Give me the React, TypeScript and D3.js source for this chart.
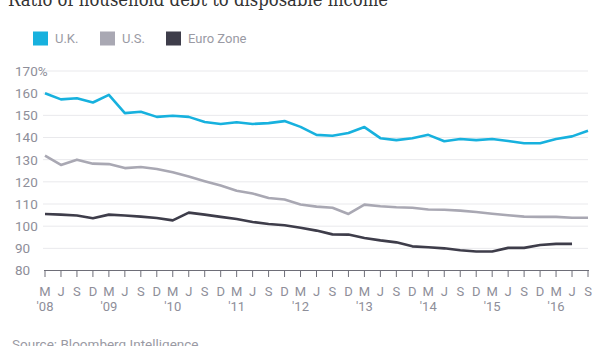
import React from "react";
import * as d3 from "d3";

const quarterLabels = [
  "M","J","S","D","M","J","S","D","M","J","S","D","M","J","S","D","M","J",
  "S","D","M","J","S","D","M","J","S","D","M","J","S","D","M","J","S",
];
const yearLabels = ["'08", "'09", "'10", "'11", "'12", "'13", "'14", "'15", "'16"];
const yTicks = [80, 90, 100, 110, 120, 130, 140, 150, 160, 170];

const ukValues = [
  160, 157.2, 157.7, 155.8, 159.2, 151, 151.6, 149.3, 149.8, 149.3, 147, 146.1,
  146.9, 146.1, 146.5, 147.4, 144.8, 141.2, 140.8, 142, 144.7, 139.7, 138.8, 139.7,
  141.2, 138.3, 139.3, 138.8, 139.3, 138.4, 137.4, 137.4, 139.3, 140.5, 143,
];
const usValues = [
  131.8, 127.6, 130, 128.2, 128, 126.2, 126.7, 125.8, 124.3, 122.4, 120.3, 118.3,
  116, 114.7, 112.7, 112, 109.8, 108.8, 108.3, 105.5, 109.7, 109, 108.5, 108.3,
  107.5, 107.4, 107, 106.4, 105.6, 104.9, 104.3, 104.2, 104.2, 103.8, 103.8,
];
const euroValues = [
  105.5, 105.2, 104.8, 103.6, 105.2, 104.8, 104.3, 103.7, 102.6, 106.1, 105.2, 104.2,
  103.2, 101.9, 101, 100.4, 99.3, 98, 96.3, 96.2, 94.7, 93.6, 92.7, 90.9,
  90.5, 90, 89.1, 88.6, 88.6, 90.2, 90.2, 91.5, 92, 92,
];

const seriesNames = ["U.K.", "U.S.", "Euro Zone"];
const seriesColors = ["#17b1de", "#a9a8b3", "#3e3d4a"];
const seriesData = [ukValues, usValues, euroValues];

const W = 616;
const H = 346;
const FONT = "Roboto, 'Noto Sans', sans-serif";

export default function App() {
  const x = d3.scaleLinear().domain([0, quarterLabels.length - 1]).range([45, 588]);
  const y = d3.scaleLinear().domain([80, 170]).range([270.5, 71]);
  const line = d3
    .line<number>()
    .x((_, i) => x(i))
    .y((d) => y(d))
    .curve(d3.curveLinear);

  const legendX = [33, 100, 166];

  return (
    <svg
      width={W}
      height={H}
      style={{ position: "absolute", left: 0, top: 0, background: "#fff" }}
    >
      <text
        x={8}
        y={6}
        fontFamily="'DejaVu Serif', serif"
        fontSize={18}
        fill="#333"
        textLength={380}
        lengthAdjust="spacingAndGlyphs"
      >
        Ratio of household debt to disposable income
      </text>

      {seriesNames.map((name, i) => (
        <g key={name}>
          <rect x={legendX[i]} y={31.5} width={15} height={14} fill={seriesColors[i]} />
          <text
            x={legendX[i] + 22}
            y={43}
            fontFamily={FONT}
            fontSize={13}
            fill="#9a9aa4"
          >
            {name}
          </text>
        </g>
      ))}

      {yTicks.map((t) => (
        <g key={t}>
          {t !== 80 && (
            <line x1={43} x2={588} y1={y(t)} y2={y(t)} stroke="#e9e9ec" strokeWidth={1} />
          )}
          <text
            x={15}
            y={y(t)}
            dy="0.36em"
            fontFamily={FONT}
            fontSize={13.5}
            fill="#8e8e99"
          >
            {t === 170 ? "170%" : t}
          </text>
        </g>
      ))}

      {seriesData.map((vals, i) => (
        <path
          key={i}
          d={line(vals) || ""}
          fill="none"
          stroke={seriesColors[i]}
          strokeWidth={2.6}
          strokeLinejoin="round"
        />
      ))}

      <line x1={44} x2={589} y1={270.5} y2={270.5} stroke="#6e6e78" strokeWidth={1} />
      {quarterLabels.map((q, i) => (
        <g key={i}>
          <line
            x1={x(i)}
            x2={x(i)}
            y1={270.5}
            y2={277}
            stroke="#6e6e78"
            strokeWidth={1}
          />
          <text
            x={x(i)}
            y={296}
            textAnchor="middle"
            fontFamily={FONT}
            fontSize={13}
            fill="#8e8e99"
          >
            {q}
          </text>
        </g>
      ))}
      {yearLabels.map((yl, k) => (
        <text
          key={yl}
          x={x(k * 4)}
          y={311}
          textAnchor="middle"
          fontFamily={FONT}
          fontSize={13}
          fill="#8e8e99"
        >
          {yl}
        </text>
      ))}

      <text x={12} y={349} fontFamily={FONT} fontSize={13.5} fill="#9a9aa4">
        Source: Bloomberg Intelligence
      </text>
    </svg>
  );
}
